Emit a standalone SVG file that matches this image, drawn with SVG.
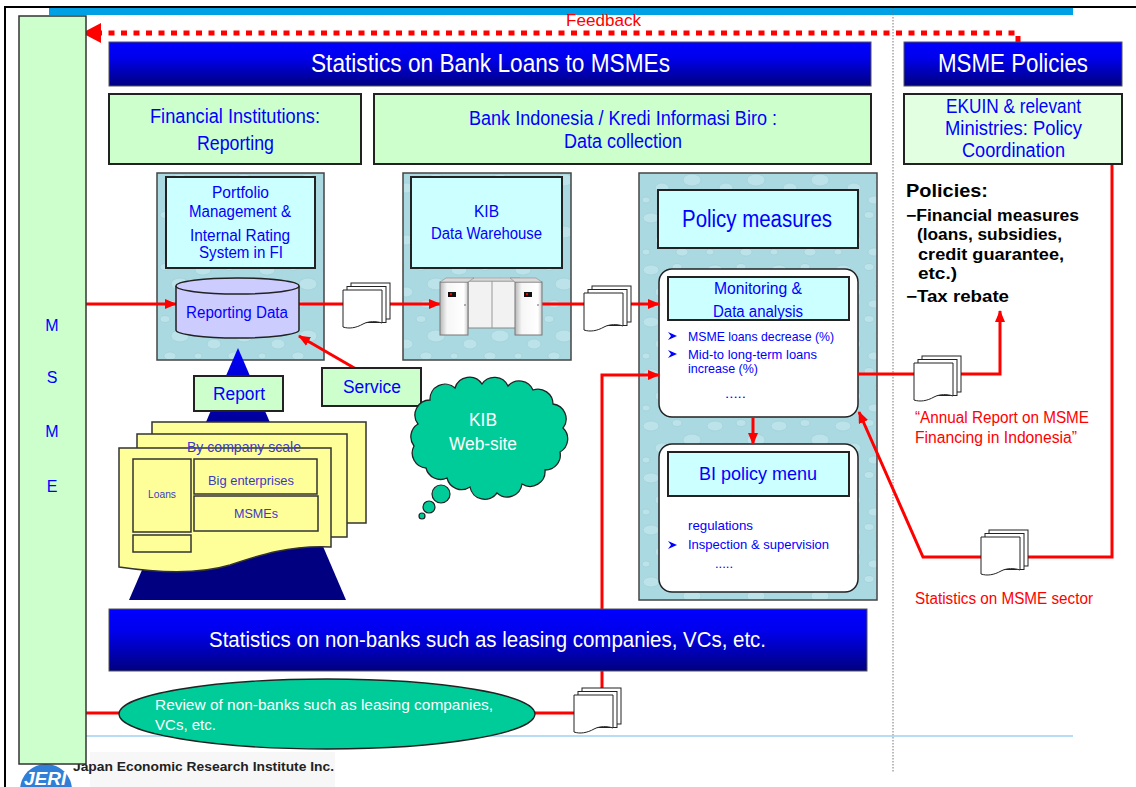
<svg xmlns="http://www.w3.org/2000/svg" width="1136" height="787" viewBox="0 0 1136 787">
  <defs>
    <style>
      .t{font-family:"Liberation Sans Narrow","Arial Narrow","Liberation Sans",Arial,sans-serif;fill:#0000FF}
      .w{fill:#FFFFFF}
      .r{fill:#FF0000}
      .y{fill:#3B3BC4}
      .pol{font-family:"Liberation Sans",Arial,sans-serif;font-weight:bold;fill:#000}
      .grn{fill:#CCFFCC;stroke:#222;stroke-width:2}
      .cyan{fill:#CCFFFF;stroke:#222;stroke-width:2}
      .panel{fill:url(#water);stroke:#444;stroke-width:1.5}
      .round{fill:#FFFFFF;stroke:#222;stroke-width:1.5}
      .bar{fill:url(#barGrad);stroke:#555;stroke-width:1}
      .con{stroke:#FF0000;stroke-width:3;fill:none}
      .page{fill:#FFFFFF;stroke:#222;stroke-width:1}
      .yel{fill:#FFFF99;stroke:#333;stroke-width:1.5}
      .bul{fill:#0000FF}
    </style>
    <linearGradient id="barGrad" x1="0" y1="0" x2="0" y2="1">
      <stop offset="0" stop-color="#0000FF"/>
      <stop offset="0.35" stop-color="#0000EE"/>
      <stop offset="1" stop-color="#000080"/>
    </linearGradient>
    <linearGradient id="pyrGrad" gradientUnits="userSpaceOnUse" x1="0" y1="348" x2="0" y2="440">
      <stop offset="0" stop-color="#0000FF"/>
      <stop offset="1" stop-color="#000080"/>
    </linearGradient>
    <linearGradient id="cab" x1="0" y1="0" x2="1" y2="0">
      <stop offset="0" stop-color="#B8B8B8"/>
      <stop offset="0.25" stop-color="#F6F6F6"/>
      <stop offset="0.85" stop-color="#FFFFFF"/>
      <stop offset="1" stop-color="#C8C8C8"/>
    </linearGradient>
    <!-- soft water-drop texture for the system panels -->
    <pattern id="water" width="64" height="52" patternUnits="userSpaceOnUse">
      <rect width="64" height="52" fill="#ABD9E2"/>
      <g fill="#BDE3EA" stroke="#9ACDD7" stroke-width="0.6">
        <ellipse cx="11" cy="10" rx="8" ry="5"/>
        <ellipse cx="37" cy="7" rx="5" ry="3.5"/>
        <ellipse cx="52" cy="24" rx="9" ry="6"/>
        <ellipse cx="22" cy="32" rx="7" ry="5"/>
        <ellipse cx="6" cy="44" rx="4" ry="3"/>
        <ellipse cx="42" cy="44" rx="6" ry="4"/>
      </g>
    </pattern>
    <marker id="ah" markerWidth="12" markerHeight="10" refX="11" refY="5" orient="auto" markerUnits="userSpaceOnUse">
      <path d="M0,0 L12,5 L0,10 Z" fill="#FF0000"/>
    </marker>
    <!-- stack of three report sheets, front sheet with a wavy lower edge -->
    <g id="doc">
      <rect class="page" x="8" y="0" width="39" height="36"/>
      <rect class="page" x="4" y="3.5" width="39" height="36"/>
      <path class="page" d="M0,7 H39 V40 C33,38 26,38 20,41 C13,45 6,46 0,44 Z"/>
    </g>
    <path id="bullet" d="M0,0 L9,4 L0,8 L3,4 Z"/>
  </defs>

  <rect width="1136" height="787" fill="#FFFFFF"/>

  <!-- page frame -->
  <g id="frame">
    <path d="M5,787 V7 H1136" fill="none" stroke="#000" stroke-width="2"/>
    <rect x="49" y="8" width="1024" height="7" fill="#00A0E4"/>
    <line x1="893" y1="8" x2="893" y2="772" stroke="#777" stroke-width="1" stroke-dasharray="1.5 1.5"/>
    <line x1="86" y1="736" x2="1073" y2="736" stroke="#9FD0F0" stroke-width="1.5"/>
    <rect x="90" y="752" width="245" height="35" fill="#F7F7F7"/>
  </g>

  <!-- texture panels -->
  <g id="panel-fi">
    <rect class="panel" x="157" y="173" width="167" height="187"/>
    <rect class="cyan" x="166" y="177" width="149" height="91"/>
    <text class="t" font-size="16" x="212" y="198" textLength="57" lengthAdjust="spacingAndGlyphs">Portfolio</text>
    <text class="t" font-size="16" x="189" y="217" textLength="102" lengthAdjust="spacingAndGlyphs">Management &amp;</text>
    <text class="t" font-size="16" x="190" y="241" textLength="100" lengthAdjust="spacingAndGlyphs">Internal Rating</text>
    <text class="t" font-size="16" x="199" y="258" textLength="84" lengthAdjust="spacingAndGlyphs">System in FI</text>
  </g>

  <g id="panel-kib">
    <rect class="panel" x="403" y="173" width="168" height="187"/>
    <rect class="cyan" x="411" y="177" width="151" height="91"/>
    <text class="t" font-size="16" x="474" y="217" textLength="25" lengthAdjust="spacingAndGlyphs">KIB</text>
    <text class="t" font-size="16" x="431" y="239" textLength="111" lengthAdjust="spacingAndGlyphs">Data Warehouse</text>
  </g>

  <g id="panel-policy">
    <rect class="panel" x="639" y="173" width="238" height="427"/>
    <rect class="cyan" x="658" y="190" width="200" height="58"/>
    <text class="t" font-size="23" x="682" y="227" textLength="150" lengthAdjust="spacingAndGlyphs">Policy measures</text>
  </g>

  <g id="monitoring">
    <rect class="round" x="659" y="269" width="199" height="148" rx="13"/>
    <rect class="cyan" x="668" y="277" width="181" height="43"/>
    <text class="t" font-size="16" x="714" y="294" textLength="88" lengthAdjust="spacingAndGlyphs">Monitoring &amp;</text>
    <text class="t" font-size="16" x="713" y="317" textLength="90" lengthAdjust="spacingAndGlyphs">Data analysis</text>
    <use href="#bullet" class="bul" x="668" y="332"/>
    <text class="t" font-size="13" x="688" y="341" textLength="146" lengthAdjust="spacingAndGlyphs">MSME loans decrease (%)</text>
    <use href="#bullet" class="bul" x="668" y="350"/>
    <text class="t" font-size="13" x="688" y="359" textLength="129" lengthAdjust="spacingAndGlyphs">Mid-to long-term loans</text>
    <text class="t" font-size="13" x="688" y="373" textLength="70" lengthAdjust="spacingAndGlyphs">increase (%)</text>
    <text class="t" font-size="13" x="725" y="398" textLength="21" lengthAdjust="spacingAndGlyphs">.....</text>
  </g>

  <g id="bi-menu">
    <rect class="round" x="659" y="444" width="199" height="148" rx="13"/>
    <rect class="cyan" x="668" y="452" width="181" height="44"/>
    <text class="t" font-size="19" x="699" y="480" textLength="118" lengthAdjust="spacingAndGlyphs">BI policy menu</text>
    <text class="t" font-size="13" x="688" y="530" textLength="65" lengthAdjust="spacingAndGlyphs">regulations</text>
    <use href="#bullet" class="bul" x="668" y="541"/>
    <text class="t" font-size="13" x="688" y="549" textLength="141" lengthAdjust="spacingAndGlyphs">Inspection &amp; supervision</text>
    <text class="t" font-size="13" x="715" y="568" textLength="18" lengthAdjust="spacingAndGlyphs">.....</text>
  </g>

  <!-- reporting pyramid with stacked forms -->
  <g id="report-forms">
    <polygon points="238,348 346,600 129,600" fill="url(#pyrGrad)"/>
    <rect class="yel" x="152" y="422" width="214" height="101"/>
    <rect class="yel" x="137" y="434" width="210" height="103"/>
    <path class="yel" d="M119,448 H331 V547 C290,545 260,555 230,565 C200,574 160,573 119,567 Z"/>
    <text class="t y" font-size="15" x="187" y="452" textLength="114" lengthAdjust="spacingAndGlyphs">By company scale</text>
    <rect x="133" y="459" width="58" height="73" fill="none" stroke="#333" stroke-width="1.5"/>
    <rect x="133" y="535" width="58" height="17" fill="none" stroke="#333" stroke-width="1.5"/>
    <rect x="194" y="459" width="123" height="35" fill="none" stroke="#333" stroke-width="1.5"/>
    <rect x="194" y="496" width="124" height="35" fill="none" stroke="#333" stroke-width="1.5"/>
    <text class="t y" font-size="11" x="148" y="498" textLength="28" lengthAdjust="spacingAndGlyphs">Loans</text>
    <text class="t y" font-size="13" x="208" y="485" textLength="86" lengthAdjust="spacingAndGlyphs">Big enterprises</text>
    <text class="t y" font-size="13" x="234" y="518" textLength="44" lengthAdjust="spacingAndGlyphs">MSMEs</text>
  </g>

  <!-- connectors -->
  <g id="connectors">
    <path d="M1018,42 V33 H101" fill="none" stroke="#FF0000" stroke-width="5" stroke-dasharray="6 6.5"/>
    <polygon points="82,33 101,23 101,43" fill="#FF0000"/>
    <line class="con" x1="86" y1="304" x2="176" y2="304" marker-end="url(#ah)"/>
    <line class="con" x1="299" y1="304" x2="440" y2="304" marker-end="url(#ah)"/>
    <line class="con" x1="542" y1="304" x2="659" y2="304" marker-end="url(#ah)"/>
    <line class="con" x1="439" y1="417" x2="299" y2="336" marker-end="url(#ah)"/>
    <path class="con" d="M602,690 V375 H659" marker-end="url(#ah)"/>
    <line class="con" x1="753" y1="417" x2="753" y2="444" marker-end="url(#ah)"/>
    <path class="con" d="M858,374 H1000 V311" marker-end="url(#ah)"/>
    <path class="con" d="M1112,164 V557 H923 L859,412" marker-end="url(#ah)"/>
    <line class="con" x1="86" y1="713" x2="575" y2="713"/>
  </g>

  <!-- data store -->
  <g id="reporting-data">
    <path d="M176,286 V330 A61.5,8 0 0 0 299,330 V286" fill="#CCCCFF" stroke="#222" stroke-width="1.5"/>
    <ellipse cx="237.5" cy="286" rx="61.5" ry="8" fill="#CCCCFF" stroke="#222" stroke-width="1.5"/>
    <text class="t" font-size="16" x="186" y="318" textLength="102" lengthAdjust="spacingAndGlyphs">Reporting Data</text>
  </g>

  <!-- warehouse servers -->
  <g id="server">
    <rect x="468" y="281" width="48" height="47" fill="#F2F2F2" stroke="#888"/>
    <line x1="492" y1="281" x2="492" y2="328" stroke="#999"/>
    <polygon points="468,281 473,278 520,278 516,281" fill="#D8D8D8" stroke="#999" stroke-width="0.6"/>
    <rect x="440" y="282" width="28" height="53" fill="url(#cab)" stroke="#777"/>
    <polygon points="440,282 446,278 474,278 468,282" fill="#DADADA" stroke="#888" stroke-width="0.6"/>
    <rect x="448" y="292" width="8" height="5" fill="#111"/>
    <rect x="450" y="293" width="2" height="2" fill="#E00"/>
    <rect x="515" y="282" width="27" height="53" fill="url(#cab)" stroke="#777"/>
    <polygon points="515,282 510,278 536,278 542,282" fill="#DADADA" stroke="#888" stroke-width="0.6"/>
    <rect x="524" y="292" width="8" height="5" fill="#111"/>
    <rect x="526" y="293" width="2" height="2" fill="#E00"/>
    <circle cx="465" cy="305" r="0.8" fill="#555"/>
    <circle cx="538" cy="305" r="0.8" fill="#555"/>
  </g>

  <!-- report sheets on the data paths -->
  <g id="doc-fi"><use href="#doc" x="343" y="283"/></g>
  <g id="doc-kib"><use href="#doc" x="584" y="286"/></g>
  <g id="doc-annual"><use href="#doc" x="914" y="356"/></g>
  <g id="doc-sector"><use href="#doc" x="981" y="530"/></g>
  <g id="doc-nonbank"><use href="#doc" x="574" y="688"/></g>

  <g id="report-box">
    <rect class="grn" x="194" y="376" width="89" height="35"/>
    <text class="t" font-size="18" x="213" y="400" textLength="52" lengthAdjust="spacingAndGlyphs">Report</text>
  </g>

  <g id="service-box">
    <rect class="grn" x="322" y="368" width="99" height="38"/>
    <text class="t" font-size="18" x="343" y="393" textLength="58" lengthAdjust="spacingAndGlyphs">Service</text>
  </g>

  <g id="kib-website">
    <path d="M418,424 A15,15 0 0 1 430,400 A15,15 0 0 1 455,388 A15,15 0 0 1 482,384 A15,15 0 0 1 508,386 A15,15 0 0 1 533,390 A15,15 0 0 1 553,404 A15,15 0 0 1 563,428 A15,15 0 0 1 560,452 A15,15 0 0 1 545,470 A15,15 0 0 1 522,484 A15,15 0 0 1 497,493 A15,15 0 0 1 470,487 A15,15 0 0 1 447,478 A15,15 0 0 1 426,468 A15,15 0 0 1 414,446 A15,15 0 0 1 418,424 Z" fill="#00CC99" stroke="#222" stroke-width="1.3"/>
    <circle cx="441" cy="494" r="9" fill="#00CC99" stroke="#222" stroke-width="1.2"/>
    <circle cx="429" cy="507" r="6" fill="#00CC99" stroke="#222" stroke-width="1.2"/>
    <circle cx="422" cy="516" r="3" fill="#00CC99" stroke="#222" stroke-width="1.2"/>
    <text class="t w" font-size="18" x="469" y="426" textLength="28" lengthAdjust="spacingAndGlyphs">KIB</text>
    <text class="t w" font-size="18" x="449" y="450" textLength="68" lengthAdjust="spacingAndGlyphs">Web-site</text>
  </g>

  <g id="nonbank-bar">
    <rect class="bar" x="109" y="609" width="758" height="62"/>
    <text class="t w" font-size="22" x="209" y="647" textLength="557" lengthAdjust="spacingAndGlyphs">Statistics on non-banks such as leasing companies, VCs, etc.</text>
  </g>

  <g id="nonbank-review">
    <ellipse cx="327" cy="714" rx="208" ry="35" fill="#00CC99" stroke="#222" stroke-width="1.3"/>
    <text class="t w" font-size="15" x="155" y="710" textLength="338" lengthAdjust="spacingAndGlyphs">Review of non-banks such as leasing companies,</text>
    <text class="t w" font-size="15" x="155" y="730" textLength="61" lengthAdjust="spacingAndGlyphs">VCs, etc.</text>
  </g>

  <g id="title-bank">
    <rect class="bar" x="109" y="42" width="762" height="44"/>
    <text class="t w" font-size="25" x="311" y="72" textLength="359" lengthAdjust="spacingAndGlyphs">Statistics on Bank Loans to MSMEs</text>
  </g>

  <g id="title-policies">
    <rect class="bar" x="904" y="42" width="218" height="44"/>
    <text class="t w" font-size="25" x="938" y="72" textLength="150" lengthAdjust="spacingAndGlyphs">MSME Policies</text>
  </g>

  <g id="fi-reporting">
    <rect class="grn" x="109" y="94" width="252" height="70"/>
    <text class="t" font-size="20" x="150" y="123" textLength="170" lengthAdjust="spacingAndGlyphs">Financial Institutions:</text>
    <text class="t" font-size="20" x="197" y="150" textLength="77" lengthAdjust="spacingAndGlyphs">Reporting</text>
  </g>

  <g id="bi-collection">
    <rect class="grn" x="374" y="94" width="497" height="70"/>
    <text class="t" font-size="20" x="469" y="125" textLength="308" lengthAdjust="spacingAndGlyphs">Bank Indonesia / Kredi Informasi Biro :</text>
    <text class="t" font-size="20" x="564" y="148" textLength="118" lengthAdjust="spacingAndGlyphs">Data collection</text>
  </g>

  <g id="ekuin">
    <rect x="904" y="94" width="218" height="70" fill="#E2FFE2" stroke="#222" stroke-width="2"/>
    <text class="t" font-size="20" x="946" y="113" textLength="135" lengthAdjust="spacingAndGlyphs">EKUIN &amp; relevant</text>
    <text class="t" font-size="20" x="945" y="135" textLength="137" lengthAdjust="spacingAndGlyphs">Ministries: Policy</text>
    <text class="t" font-size="20" x="962" y="157" textLength="103" lengthAdjust="spacingAndGlyphs">Coordination</text>
  </g>

  <g id="policies">
    <text class="pol" font-size="19" x="906" y="197" textLength="82" lengthAdjust="spacingAndGlyphs">Policies:</text>
    <text class="pol" font-size="16" x="906" y="221" textLength="173" lengthAdjust="spacingAndGlyphs">−Financial measures</text>
    <text class="pol" font-size="16" x="917" y="240" textLength="145" lengthAdjust="spacingAndGlyphs">(loans, subsidies,</text>
    <text class="pol" font-size="16" x="918" y="260" textLength="146" lengthAdjust="spacingAndGlyphs">credit guarantee,</text>
    <text class="pol" font-size="16" x="918" y="279" textLength="39" lengthAdjust="spacingAndGlyphs">etc.)</text>
    <text class="pol" font-size="16" x="906" y="302" textLength="103" lengthAdjust="spacingAndGlyphs">−Tax rebate</text>
  </g>

  <g id="labels-red">
    <text class="t r" font-size="17" x="566" y="26" textLength="75" lengthAdjust="spacingAndGlyphs">Feedback</text>
    <text class="t r" font-size="16" x="915" y="423" textLength="174" lengthAdjust="spacingAndGlyphs">“Annual Report on MSME</text>
    <text class="t r" font-size="16" x="915" y="443" textLength="162" lengthAdjust="spacingAndGlyphs">Financing in Indonesia”</text>
    <text class="t r" font-size="16" x="915" y="604" textLength="178" lengthAdjust="spacingAndGlyphs">Statistics on MSME sector</text>
  </g>

  <!-- issuer mark and name -->
  <g id="logo">
    <circle cx="46" cy="790" r="26" fill="#2F7FD8"/>
    <text x="24" y="785" font-family="Liberation Sans,Arial,sans-serif" font-size="19" font-weight="bold" font-style="italic" fill="#FFFFFF">JERI</text>
    <text x="73" y="771" font-family="Liberation Sans,Arial,sans-serif" font-size="13" font-weight="bold" fill="#222" textLength="261" lengthAdjust="spacingAndGlyphs">Japan Economic Research Institute Inc.</text>
  </g>

  <g id="msme">
    <rect x="19" y="16" width="67" height="748" fill="#CCFFCC" stroke="#333" stroke-width="1.5"/>
    <text class="t" font-size="16" x="52" y="331" text-anchor="middle">M</text>
    <text class="t" font-size="16" x="52" y="383" text-anchor="middle">S</text>
    <text class="t" font-size="16" x="52" y="437" text-anchor="middle">M</text>
    <text class="t" font-size="16" x="52" y="492" text-anchor="middle">E</text>
  </g>
</svg>
